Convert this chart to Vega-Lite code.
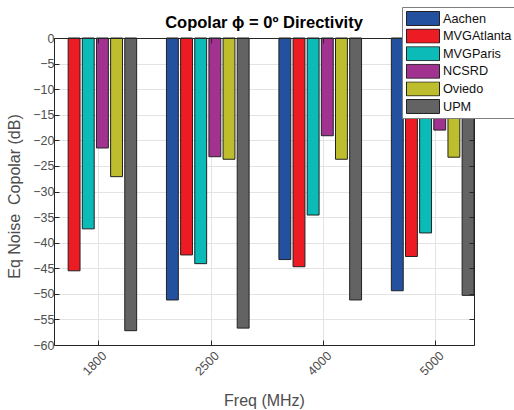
{
  "$schema": "https://vega.github.io/schema/vega-lite/v6.json",
  "width": 420,
  "height": 307,
  "autosize": "none",
  "padding": {"left": 54, "top": 38, "right": 40, "bottom": 65},
  "title": {"text": "Copolar ϕ = 0º Directivity", "fontSize": 16.5, "fontWeight": "bold", "font": "Liberation Sans", "color": "#000000", "anchor": "middle", "frame": "group", "baseline": "alphabetic", "offset": 0, "dy": 38},
  "config": {
    "view": {"stroke": null},
    "font": "Liberation Sans",
    "axis": {"labelFont": "Liberation Sans", "labelFontSize": 12.5, "labelColor": "#4d4d4d", "titleFont": "Liberation Sans", "titleFontSize": 16, "titleFontWeight": "normal", "titleColor": "#4d4d4d", "gridColor": "#e3e3e3", "gridWidth": 1, "domain": true, "domainColor": "#262626", "domainWidth": 1, "tickColor": "#262626"}
  },
  "data": {"values": [
    {"freq": "1800", "site": "MVGAtlanta", "value": -45.5},
    {"freq": "1800", "site": "MVGParis", "value": -37.3},
    {"freq": "1800", "site": "NCSRD", "value": -21.5},
    {"freq": "1800", "site": "Oviedo", "value": -27.1},
    {"freq": "1800", "site": "UPM", "value": -57.2},
    {"freq": "2500", "site": "Aachen", "value": -51.2},
    {"freq": "2500", "site": "MVGAtlanta", "value": -42.4},
    {"freq": "2500", "site": "MVGParis", "value": -44.1},
    {"freq": "2500", "site": "NCSRD", "value": -23.2},
    {"freq": "2500", "site": "Oviedo", "value": -23.7},
    {"freq": "2500", "site": "UPM", "value": -56.7},
    {"freq": "4000", "site": "Aachen", "value": -43.3},
    {"freq": "4000", "site": "MVGAtlanta", "value": -44.7},
    {"freq": "4000", "site": "MVGParis", "value": -34.6},
    {"freq": "4000", "site": "NCSRD", "value": -19.1},
    {"freq": "4000", "site": "Oviedo", "value": -23.7},
    {"freq": "4000", "site": "UPM", "value": -51.2},
    {"freq": "5000", "site": "Aachen", "value": -49.4},
    {"freq": "5000", "site": "MVGAtlanta", "value": -42.7},
    {"freq": "5000", "site": "MVGParis", "value": -38.1},
    {"freq": "5000", "site": "NCSRD", "value": -18.0},
    {"freq": "5000", "site": "Oviedo", "value": -23.3},
    {"freq": "5000", "site": "UPM", "value": -50.3}
  ]},
  "resolve": {"axis": {"x": "independent", "y": "independent"}},
  "layer": [
    {
      "mark": {"type": "bar", "stroke": "#222222", "strokeWidth": 1},
      "encoding": {
        "x": {"field": "freq", "type": "nominal",
          "scale": {"paddingInner": 0.265, "paddingOuter": 0, "align": 0},
          "axis": {"title": "Freq (MHz)", "labelAngle": -45, "bandPosition": 0.54, "grid": true, "tickSize": -5, "labelPadding": 9, "labelOffset": 5, "titleBaseline": "alphabetic", "titleY": 60, "zindex": 0}},
        "xOffset": {"field": "site", "type": "nominal", "scale": {"paddingInner": 0.16}},
        "y": {"field": "value", "type": "quantitative",
          "scale": {"domain": [-60, 0], "nice": false, "zero": false},
          "axis": {"title": "Eq Noise\u00a0 Copolar (dB)", "values": [-60, -55, -50, -45, -40, -35, -30, -25, -20, -15, -10, -5, 0], "grid": true, "tickSize": -5, "labelPadding": 5, "titleBaseline": "alphabetic", "titleX": -35, "titleY": 158, "zindex": 0}},
        "color": {"field": "site", "type": "nominal",
          "scale": {"domain": ["Aachen", "MVGAtlanta", "MVGParis", "NCSRD", "Oviedo", "UPM"], "range": ["#2450a0", "#ed1c24", "#0bbbb8", "#a1328f", "#bdbd2d", "#636363"]},
          "legend": {"title": null, "orient": "none", "legendX": 348, "legendY": -31, "fillColor": "#ffffff", "strokeColor": "#7f7f7f", "padding": 4,
            "symbolType": "M-1,-0.424H1V0.424H-1Z", "symbolSize": 1089, "symbolStrokeColor": "#222222", "symbolStrokeWidth": 1, "symbolOpacity": 1,
            "clipHeight": 15, "rowPadding": 2.6, "labelFont": "Liberation Sans", "labelFontSize": 12.7, "labelColor": "#111111", "labelOffset": 3, "zindex": 2}}
      }
    },
    {
      "mark": {"type": "bar", "opacity": 0},
      "encoding": {
        "x": {"field": "freq", "type": "nominal",
          "axis": {"orient": "top", "title": null, "labels": false, "bandPosition": 0.54, "grid": false, "tickSize": -5, "zindex": 1}},
        "xOffset": {"field": "site", "type": "nominal"},
        "y": {"field": "value", "type": "quantitative",
          "axis": {"orient": "right", "title": null, "labels": false, "values": [-60, -55, -50, -45, -40, -35, -30, -25, -20, -15, -10, -5, 0], "grid": false, "tickSize": -5, "zindex": 1}}
      }
    }
  ]
}
